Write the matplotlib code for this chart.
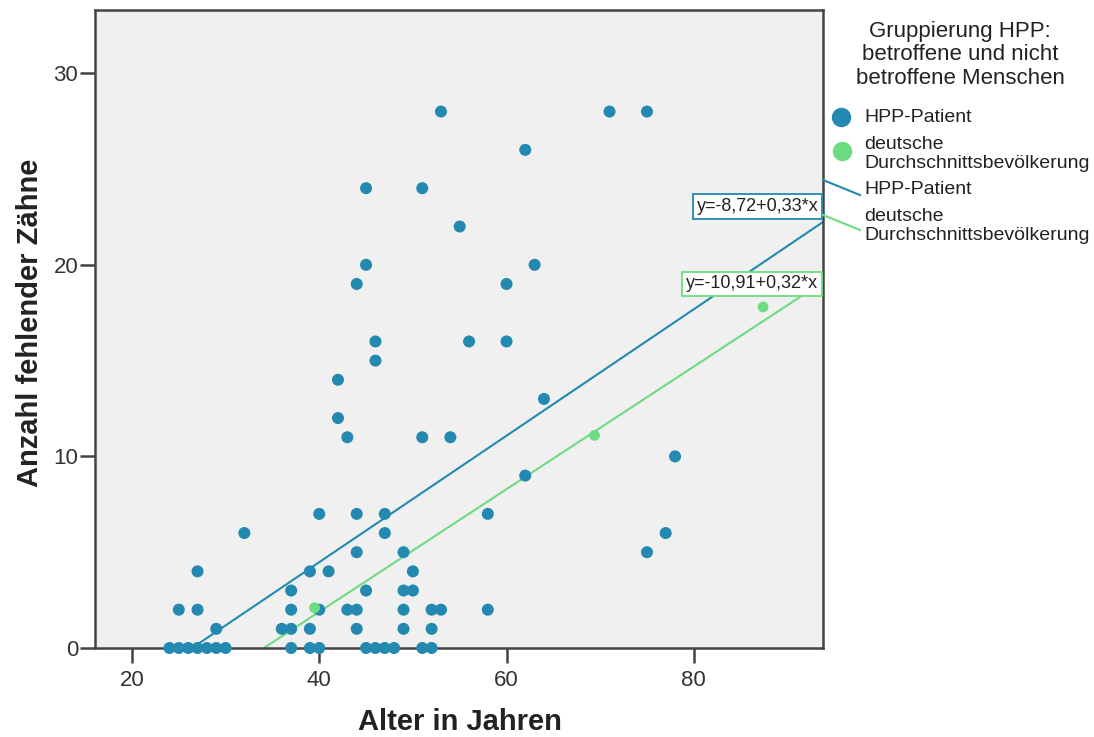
import matplotlib
matplotlib.use('Agg')
import matplotlib.pyplot as plt
from matplotlib.lines import Line2D
import numpy as np

plt.rcParams['font.family'] = ['Liberation Sans', 'DejaVu Sans']

# HPP-Patienten: Alter / fehlende Zähne
hpp_age = [24, 25, 26, 27, 28, 29, 30,
           25, 27, 27, 29, 32,
           36, 37, 37, 37, 37,
           39, 39, 39, 40, 40, 40, 41,
           42, 42, 43, 43, 44, 44, 44, 44, 44,
           45, 45, 45, 45, 46, 46, 46, 47, 48, 47, 47,
           49, 49, 49, 49, 50, 50,
           51, 51, 51, 52, 52, 52, 53, 53,
           54, 55, 56, 58, 58,
           60, 60, 62, 62, 63, 64,
           71, 75, 75, 77, 78]
hpp_teeth = [0, 0, 0, 0, 0, 0, 0,
             2, 2, 4, 1, 6,
             1, 1, 0, 2, 3,
             0, 1, 4, 0, 2, 7, 4,
             14, 12, 11, 2, 2, 1, 5, 7, 19,
             24, 20, 3, 0, 16, 15, 0, 0, 0, 6, 7,
             5, 3, 2, 1, 4, 3,
             24, 11, 0, 0, 1, 2, 2, 28,
             11, 22, 16, 7, 2,
             19, 16, 26, 9, 20, 13,
             28, 28, 5, 6, 10]

# deutsche Durchschnittsbevölkerung
ger_age = [39.5, 69.4, 87.4]
ger_teeth = [2.1, 11.1, 17.8]

# Regressionsgeraden (Konstante, Steigung)
fit_const = [-8.72, -10.91]
fit_slope = [0.33, 0.32]
fit_labels = ['y=-8,72+0,33*x', 'y=-10,91+0,32*x']

groups = ['HPP-Patient', 'deutsche\nDurchschnittsbevölkerung']
BLUE = '#2389b0'
GREEN = '#6ddc80'
TXT = '#222222'
colors = [BLUE, GREEN]

W, H = 1094, 737
fig = plt.figure(figsize=(W / 100, H / 100), dpi=100)
ax = fig.add_axes([95 / W, 1 - 648 / H, (823 - 95) / W, (648 - 10) / H])
ax.set_facecolor('#f0f0f0')

xlim = (16.05, 93.8)
ylim = (0, 33.3)
ax.set_xlim(*xlim)
ax.set_ylim(*ylim)

ax.scatter(hpp_age, hpp_teeth, s=75, color=BLUE, edgecolors='none', zorder=3, clip_on=False)
ax.scatter(ger_age, ger_teeth, s=60, color=GREEN, edgecolors='none', zorder=4, clip_on=False)

xs = np.array(xlim)
label_pos = [23.05, 19.0]
for b, m, c, lab, ly in zip(fit_const, fit_slope, colors, fit_labels, label_pos):
    ax.plot(xs, b + m * xs, color=c, lw=1.5, zorder=2)
    ax.text(93.3, ly, lab, ha='right', va='center', fontsize=13, color=TXT,
            bbox=dict(boxstyle='square,pad=0.22', facecolor='white', edgecolor=c, lw=1.3),
            zorder=5)

ax.set_xticks([20, 40, 60, 80])
ax.set_yticks([0, 10, 20, 30])
ax.tick_params(axis='both', labelsize=16, labelcolor='#333333', color='#444444',
               length=11, width=1.8, direction='out')
ax.tick_params(axis='y', pad=1)
ax.tick_params(axis='x', pad=5)
for sp in ax.spines.values():
    sp.set_color('#444444')
    sp.set_linewidth(1.8)


def fx(px):
    return px / W


def fy(py):
    return 1 - py / H


# Achsentitel
fig.text(fx(460), fy(722), 'Alter in Jahren', ha='center', va='center',
         fontsize=21, fontweight='bold', color=TXT)
fig.text(fx(30), fy(323), 'Anzahl fehlender Zähne', ha='center', va='center',
         rotation=90, fontsize=21, fontweight='bold', color=TXT)

# ── Legende ───────────────────────────────────────────────
fig.text(fx(960), fy(55), 'Gruppierung HPP:\nbetroffene und nicht\nbetroffene Menschen',
         ha='center', va='center', fontsize=16, color=TXT, linespacing=1.15)

fig.add_artist(Line2D([fx(841)], [fy(117)], marker='o', markersize=14, color=BLUE,
                      markeredgewidth=0, transform=fig.transFigure))
fig.add_artist(Line2D([fx(842)], [fy(151)], marker='o', markersize=14, color=GREEN,
                      markeredgewidth=0, transform=fig.transFigure))
fig.text(fx(864), fy(117), groups[0], ha='left', va='center', fontsize=14, color=TXT)
fig.text(fx(864), fy(154), groups[1], ha='left', va='center', fontsize=14, color=TXT,
         linespacing=1.1)

fig.add_artist(Line2D([fx(823), fx(860)], [fy(180), fy(195)], color=BLUE, lw=1.5,
                      transform=fig.transFigure))
fig.add_artist(Line2D([fx(823), fx(860)], [fy(215), fy(230)], color=GREEN, lw=1.5,
                      transform=fig.transFigure))
fig.text(fx(864), fy(190), groups[0], ha='left', va='center', fontsize=14, color=TXT)
fig.text(fx(864), fy(226), groups[1], ha='left', va='center', fontsize=14, color=TXT,
         linespacing=1.1)

fig.savefig('out.png', dpi=100, facecolor='white')
